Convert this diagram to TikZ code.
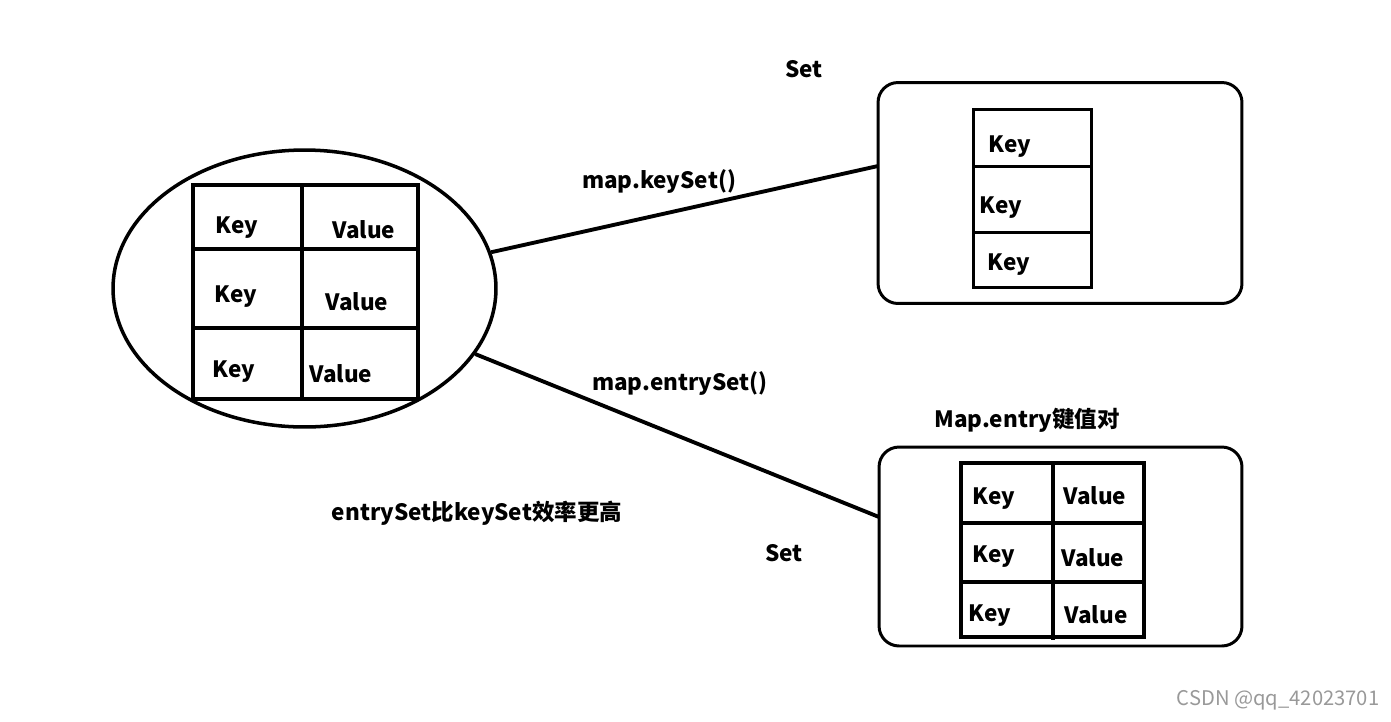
\documentclass[tikz,border=0pt]{standalone}
\usepackage{fontspec}
\usepackage{tikz}
\usetikzlibrary{shapes.geometric}
\setmainfont{Noto Sans CJK SC}
\definecolor{mark}{rgb}{0.6,0.6,0.6}

\begin{document}
\begin{tikzpicture}[x=0.02cm,y=-0.02cm,
	lbl/.style={font=\fontsize{12.8}{15}\selectfont\bfseries, inner sep=0pt, yshift=-0.04cm},
	tab/.style={line width=2.2pt},
	thin tab/.style={line width=1.7pt},
	setbox/.style={draw, line width=1.7pt, rounded corners=0.4cm, inner sep=0pt},
	conn/.style={line width=2.2pt}]
	\useasboundingbox (0,0) rectangle (1391,721);
	
	%Map
	\node[ellipse, draw, line width=2pt, minimum width=7.66cm, minimum height=5.54cm, inner sep=0pt] (mapell) at (304.5,288.5) {};
	\draw[tab] (193,185) rectangle (418,399);
	\draw[tab] (302,185) -- (302,399);
	\draw[tab] (193,249) -- (418,249);
	\draw[tab] (193,328) -- (418,328);
	\node[lbl] (mk1) at (237,226) {Key};
	\node[lbl] (mv1) at (364,228) {Value};
	\node[lbl] (mk2) at (236,295) {Key};
	\node[lbl] (mv2) at (357,300) {Value};
	\node[lbl] (mk3) at (234,370) {Key};
	\node[lbl] (mv3) at (341,372) {Value};
	
	%keySet
	\node[setbox, minimum width=7.28cm, minimum height=4.42cm] (keybox) at (1060,193) {};
	\node[lbl] (settop) at (804,67) {Set};
	\draw[thin tab] (973,109) rectangle (1091,287);
	\draw[thin tab] (973,166) -- (1093,166);
	\draw[thin tab] (975,232) -- (1091,232);
	\node[lbl] (sk1) at (1010,145) {Key};
	\node[lbl] (sk2) at (1001,206) {Key};
	\node[lbl] (sk3) at (1009,263) {Key};
	
	%entrySet
	\node[setbox, minimum width=7.26cm, minimum height=3.98cm] (entrybox) at (1060.5,546.5) {};
	\node[lbl] (entrytitle) at (1027,418) {Map.entry键值对};
	\node[lbl] (setbot) at (784,551) {Set};
	\draw[tab] (961,463) rectangle (1144,637);
	\draw[tab] (1053,463) -- (1053,640);
	\draw[tab] (961,523) -- (1144,523);
	\draw[tab] (961,582) -- (1146,582);
	\node[lbl] (ek1) at (994,497) {Key};
	\node[lbl] (ev1) at (1095,494) {Value};
	\node[lbl] (ek2) at (994,555) {Key};
	\node[lbl] (ev2) at (1093,556) {Value};
	\node[lbl] (ek3) at (990,614) {Key};
	\node[lbl] (ev3) at (1096,613) {Value};
	
	%Conectores
	\coordinate (kin) at (878,166);
	\coordinate (ein) at (879,517);
	\draw[conn] (mapell.11) -- (kin);
	\draw[conn] (mapell.-21) -- (ein);
	\node[lbl] (keylbl) at (659,179) {map.keySet()};
	\node[lbl] (entrylbl) at (680,381) {map.entrySet()};
	\node[lbl] (note) at (477,511) {entrySet比keySet效率更高};
	
	\node[font=\fontsize{11.5}{13}\selectfont, text=mark, inner sep=0pt] (wm) at (1278,700) {CSDN @qq\_42023701};
\end{tikzpicture}
\end{document}
